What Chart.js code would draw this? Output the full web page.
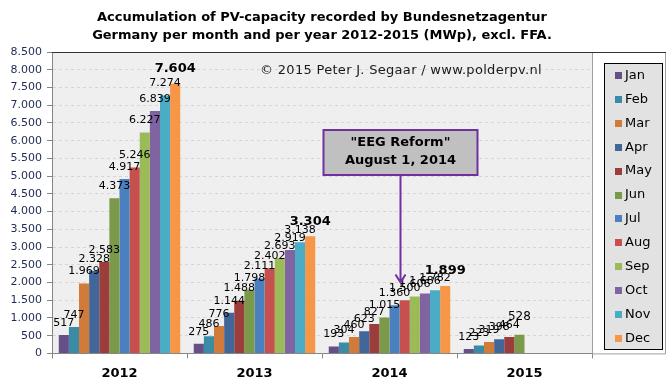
<!DOCTYPE html>
<html>
<head>
<meta charset="utf-8">
<script src="https://cdn.jsdelivr.net/npm/chart.js@4/dist/chart.umd.min.js"></script>
<style>
  html, body { margin: 0; padding: 0; background: #fff; }
  #wrap { width: 671px; height: 391px; }
</style>
</head>
<body>
<div id="wrap"><canvas id="pv"></canvas></div>
<script>
// cumulative MWp per year, one array per month (2012, 2013, 2014, 2015)
const years = ['2012', '2013', '2014', '2015'];
const months = ['Jan', 'Feb', 'Mar', 'Apr', 'May', 'Jun', 'Jul', 'Aug', 'Sep', 'Oct', 'Nov', 'Dec'];
const jan = [517, 275, 193, 123];
const feb = [747, 486, 304, 223];
const mar = [1969, 776, 460, 319];
const apr = [2328, 1144, 623, 398];
const may = [2583, 1488, 827, 464];
const jun = [4373, 1798, 1015, 528];
const jul = [4917, 2111, 1360, null];
const aug = [5246, 2402, 1500, null];
const sep = [6227, 2693, 1606, null];
const oct = [6839, 2919, 1686, null];
const nov = [7274, 3138, 1782, null];
const dec = [7604, 3304, 1899, null];
const yMax = 8500;
const yStep = 500;

const titleLines = ['Accumulation of PV-capacity recorded by Bundesnetzagentur',
                    'Germany per month and per year 2012-2015 (MWp), excl. FFA.'];
const credit = '\u00A9 2015 Peter J. Segaar / www.polderpv.nl';
const reformNote = ['"EEG Reform"', 'August 1, 2014'];

const colors = ['#654F86', '#3A8BA6', '#D07B3A', '#41679A', '#9B3D3A', '#7A9A4A',
                '#4A80BE', '#C5504D', '#9BBB59', '#8064A2', '#4BACC6', '#F79646'];

const FONT = 'DejaVu Sans';

function fmt(v) {
  return String(v).replace(/\B(?=(\d{3})+(?!\d))/g, '.');
}

const series = [jan, feb, mar, apr, may, jun, jul, aug, sep, oct, nov, dec];

const chartData = {
  labels: years,
  datasets: series.map((d, i) => ({
    label: months[i],
    data: d,
    backgroundColor: colors[i],
    borderWidth: 0
  }))
};

// plot area fill, frame, legend, credit line
const frame = {
  id: 'frame',
  beforeDraw(chart) {
    const {ctx, chartArea: a} = chart;
    ctx.save();
    ctx.fillStyle = '#EFEFEF';
    ctx.fillRect(a.left, a.top, a.right - a.left, a.bottom - a.top);
    ctx.restore();
  },
  afterDraw(chart) {
    const {ctx, chartArea: a} = chart;
    const outerRight = a.right + 73;
    ctx.save();
    ctx.lineWidth = 1;
    ctx.strokeStyle = '#A0A0A0';
    ctx.beginPath();
    ctx.moveTo(a.right + 0.5, a.top);
    ctx.lineTo(a.right + 0.5, a.bottom);
    ctx.moveTo(a.right, a.bottom + 0.5);
    ctx.lineTo(outerRight + 0.5, a.bottom + 0.5);
    ctx.lineTo(outerRight + 0.5, a.top);
    ctx.stroke();
    ctx.strokeStyle = '#333';
    ctx.beginPath();
    ctx.moveTo(a.left, a.top + 0.5);
    ctx.lineTo(outerRight + 1, a.top + 0.5);
    ctx.stroke();

    // legend
    const lx = a.right + 12, ly = a.top + 11, lw = 58, lh = 286;
    ctx.fillStyle = '#E2E2E2';
    ctx.fillRect(lx, ly, lw, lh);
    ctx.strokeStyle = '#000';
    ctx.strokeRect(lx + 0.5, ly + 0.5, lw, lh);
    ctx.font = '13px "' + FONT + '"';
    ctx.textBaseline = 'middle';
    ctx.textAlign = 'left';
    chart.data.datasets.forEach((ds, i) => {
      const y = ly + 12.5 + i * 23.9;
      ctx.fillStyle = ds.backgroundColor;
      ctx.fillRect(lx + 11, Math.round(y - 3.5), 7, 7);
      ctx.fillStyle = '#000';
      ctx.fillText(ds.label, lx + 21, y);
    });

    // credit
    ctx.font = '13px "' + FONT + '"';
    ctx.letterSpacing = '0.3px';
    ctx.fillStyle = '#1A1A1A';
    ctx.textAlign = 'center';
    ctx.fillText(credit, 401, a.top + 19);
    ctx.restore();
  }
};

// value labels above bars, year total above last bar of each year
const valueLabels = {
  id: 'valueLabels',
  afterDatasetsDraw(chart) {
    const {ctx} = chart;
    const sets = chart.data.datasets;
    ctx.save();
    ctx.textAlign = 'center';
    ctx.textBaseline = 'middle';
    ctx.fillStyle = '#000';
    chart.data.labels.forEach((_, i) => {
      let last = -1;
      sets.forEach((ds, di) => { if (ds.data[i] != null) last = di; });
      sets.forEach((ds, di) => {
        const v = ds.data[i];
        if (v == null) return;
        const bar = chart.getDatasetMeta(di).data[i];
        if (di === last) {
          const full = last === sets.length - 1;
          ctx.font = (full ? 'bold 13px "' : '12px "') + FONT + '"';
          ctx.fillText(fmt(v), bar.x, bar.y - (full ? 15 : 18));
        } else {
          ctx.font = '11px "' + FONT + '"';
          ctx.fillText(fmt(v), bar.x, bar.y - 12);
        }
      });
    });
    ctx.restore();
  }
};

// EEG reform callout pointing at the Jul/Aug boundary of 2014
const reform = {
  id: 'reform',
  afterDraw(chart) {
    const {ctx} = chart;
    const y = chart.scales.y;
    const bar = chart.getDatasetMeta(months.indexOf('Aug')).data[years.indexOf('2014')];
    const x = Math.round(bar.x - bar.width / 2) + 0.5;
    const top = Math.round(y.getPixelForValue(6290));
    const bottom = Math.round(y.getPixelForValue(5040));
    const tip = y.getPixelForValue(2000);
    const w = 154;
    ctx.save();
    ctx.fillStyle = '#C0C0C0';
    ctx.fillRect(x - w / 2, top, w, bottom - top);
    ctx.strokeStyle = '#7030A0';
    ctx.lineWidth = 2;
    ctx.strokeRect(x - w / 2, top, w, bottom - top);
    ctx.beginPath();
    ctx.moveTo(x, bottom);
    ctx.lineTo(x, tip);
    ctx.moveTo(x - 5, tip - 8);
    ctx.lineTo(x, tip);
    ctx.lineTo(x + 5, tip - 8);
    ctx.stroke();
    ctx.fillStyle = '#000';
    ctx.font = 'bold 13px "' + FONT + '"';
    ctx.textAlign = 'center';
    ctx.textBaseline = 'middle';
    ctx.fillText(reformNote[0], x, top + 13);
    ctx.fillText(reformNote[1], x, top + 31);
    ctx.restore();
  }
};

new Chart(document.getElementById('pv'), {
  type: 'bar',
  data: chartData,
  plugins: [frame, valueLabels, reform],
  options: {
    responsive: true,
    maintainAspectRatio: false,
    animation: false,
    layout: { padding: { left: 0, right: 79, top: 0, bottom: 3 } },
    datasets: { bar: { categoryPercentage: 0.9, barPercentage: 1.0 } },
    plugins: {
      legend: { display: false },
      tooltip: { enabled: false },
      title: {
        display: true,
        fullSize: false,
        text: titleLines,
        color: '#000',
        font: { family: FONT, size: 13, weight: 'bold', lineHeight: 18 / 13 },
        padding: { top: 9, bottom: 7 }
      }
    },
    scales: {
      x: {
        grid: { display: true, drawOnChartArea: false, offset: true, tickLength: 5, color: '#868686' },
        border: { color: '#868686' },
        ticks: { color: '#000', padding: 7, font: { family: FONT, size: 13, weight: 'bold' } }
      },
      y: {
        min: 0,
        max: yMax,
        afterFit(scale) { scale.width = 52; },
        grid: { color: '#D6D6D6', tickColor: '#868686', tickLength: 5 },
        border: { color: '#868686', dash: [3, 3] },
        ticks: {
          stepSize: yStep,
          padding: 5,
          color: '#1E2A52',
          font: { family: FONT, size: 11 },
          callback: (v) => fmt(v)
        }
      }
    }
  }
});
</script>
</body>
</html>
